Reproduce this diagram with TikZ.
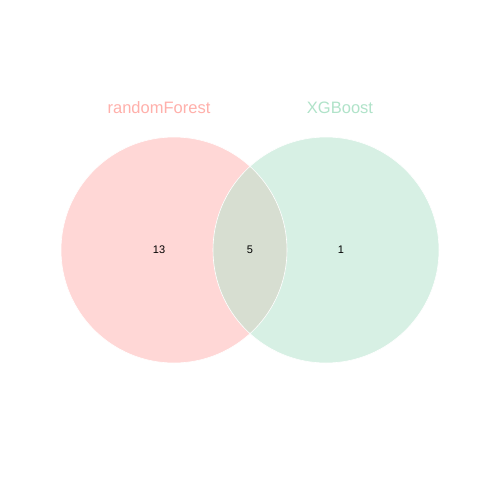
\documentclass[tikz,border=0pt]{standalone}
\usepackage{fontspec}
\setmainfont{Liberation Sans}
\definecolor{leftfill}{HTML}{FFD7D6}
\definecolor{rightfill}{HTML}{D7F0E4}
\definecolor{midfill}{HTML}{D7DED1}
\definecolor{leftlab}{HTML}{FFB0AB}
\definecolor{rightlab}{HTML}{B0E3C9}
\tikzset{setlabel/.style={font=\fontsize{16.5}{19}\selectfont},
  countlabel/.style={font=\fontsize{11}{13}\selectfont, text=black}}
\begin{document}
\begin{tikzpicture}[x=1pt,y=-1pt]
\useasboundingbox[fill=white] (0,0) rectangle (500,500);
\fill[leftfill] (174,250) circle (113);
\fill[rightfill] (326,250) circle (113);
\begin{scope}
\clip (174,250) circle (113);
\fill[midfill] (326,250) circle (113);
\end{scope}
\draw[white, line width=0.6pt] (174,250) circle (113);
\draw[white, line width=0.6pt] (326,250) circle (113);
\node[setlabel, text=leftlab] (lA) at (159,108) {randomForest};
\node[setlabel, text=rightlab] (lB) at (340,108) {XGBoost};
\node[countlabel] (nA) at (159,250) {13};
\node[countlabel] (nAB) at (250,250) {5};
\node[countlabel] (nB) at (341,250) {1};
\end{tikzpicture}
\end{document}
